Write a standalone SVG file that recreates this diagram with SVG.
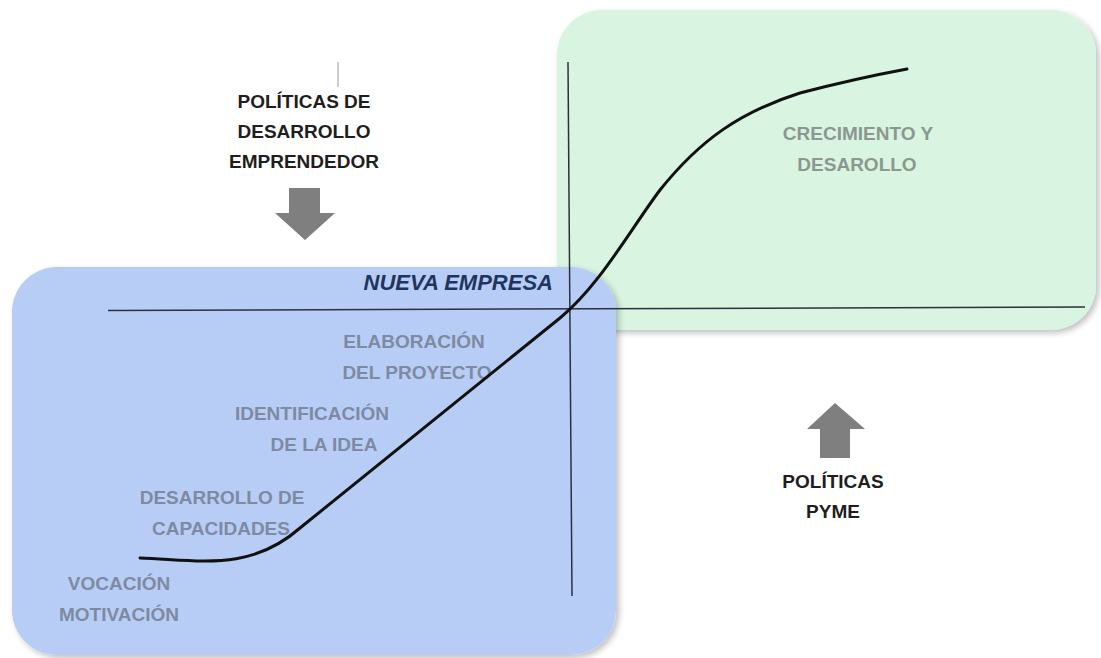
<svg xmlns="http://www.w3.org/2000/svg" width="1101" height="658" viewBox="0 0 1101 658">
  <defs>
    <filter id="sh" x="-5%" y="-5%" width="115%" height="115%">
      <feGaussianBlur in="SourceAlpha" stdDeviation="3"/>
      <feOffset dx="3" dy="3" result="b"/>
      <feComponentTransfer><feFuncA type="linear" slope="0.25"/></feComponentTransfer>
      <feMerge><feMergeNode/><feMergeNode in="SourceGraphic"/></feMerge>
    </filter>
  </defs>
  <style>
    text { font-family: "Liberation Sans", Arial, sans-serif; font-weight: bold; font-size: 19px; text-anchor: middle; }
    .dark { fill: #1e1e1e; }
    .gb { fill: #7d8aa2; }
    .gg { fill: #8b988f; }
    .arrow { fill: #7f7f7f; }
    .axis { stroke: #2a3040; stroke-width: 1.5; fill: none; }
    .curve { stroke: #111111; stroke-width: 3; fill: none; stroke-linecap: round; }
  </style>
  <rect width="1101" height="658" fill="#ffffff"/>

  <g id="growth-box">
    <rect x="557" y="10" width="539" height="320" rx="45" ry="45" fill="#d9f4e1" filter="url(#sh)"/>
    <text class="gg" x="858" y="140">CRECIMIENTO Y</text>
    <text class="gg" x="857" y="171">DESAROLLO</text>
  </g>

  <g id="new-company-box">
    <rect x="12" y="267" width="604" height="388" rx="45" ry="45" fill="#b8cdf6" filter="url(#sh)"/>
    <text x="553" y="290" style="text-anchor:end; font-style:italic; font-size:22px; fill:#1f3560">NUEVA EMPRESA</text>
    <text class="gb" x="414" y="348">ELABORACIÓN</text>
    <text class="gb" x="417" y="379">DEL PROYECTO</text>
    <text class="gb" x="312" y="420">IDENTIFICACIÓN</text>
    <text class="gb" x="324" y="451">DE LA IDEA</text>
    <text class="gb" x="222" y="504">DESARROLLO DE</text>
    <text class="gb" x="221" y="535">CAPACIDADES</text>
    <text class="gb" x="119" y="590">VOCACIÓN</text>
    <text class="gb" x="119" y="621">MOTIVACIÓN</text>
  </g>

  <g id="entrepreneur-policies">
    <line x1="338" y1="62" x2="338" y2="87" stroke="#9a9a9a" stroke-width="1"/>
    <text class="dark" x="304" y="108">POLÍTICAS DE</text>
    <text class="dark" x="304" y="138">DESARROLLO</text>
    <text class="dark" x="304" y="168">EMPRENDEDOR</text>
    <polygon class="arrow" points="289,188 320,188 320,213 335,213 305,240 275,213 289,213"/>
  </g>

  <g id="sme-policies">
    <polygon class="arrow" points="835,403 865,429 850,429 850,458 820,458 820,429 807,429"/>
    <text class="dark" x="833" y="488">POLÍTICAS</text>
    <text class="dark" x="833" y="518">PYME</text>
  </g>

  <g id="connectors">
    <line class="axis" x1="108" y1="310.5" x2="1085" y2="307"/>
    <line class="axis" x1="568" y1="62" x2="572" y2="596"/>
    <path class="curve" d="M140,558 C200,560 250,572 300,528 L560,318 C600,285 630,230 660,190 C700,140 740,112 800,93 C850,80 880,74 907,69"/>
  </g>
</svg>
